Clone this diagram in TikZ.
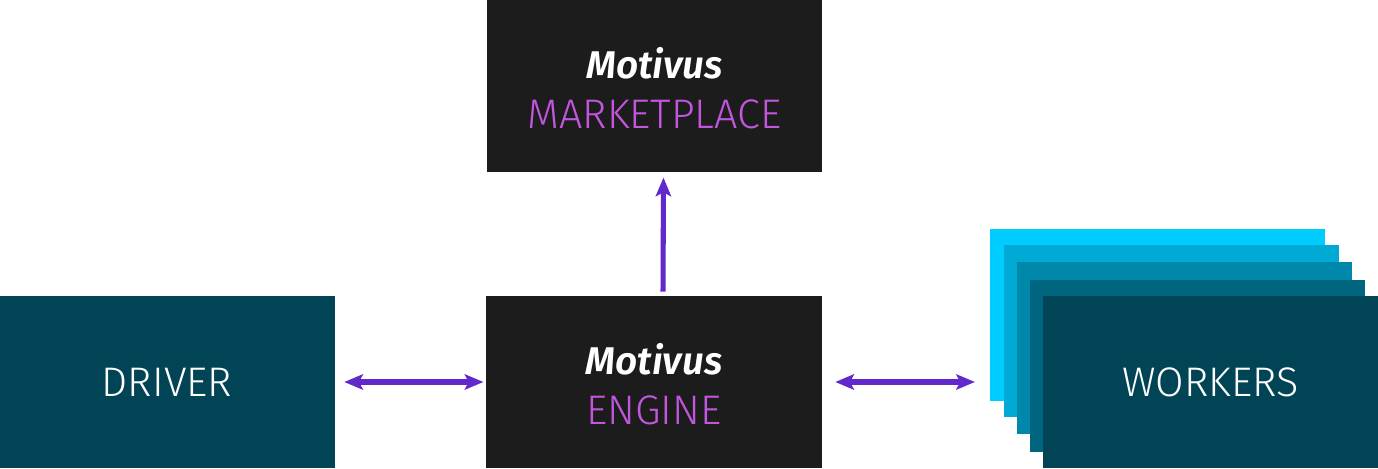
\documentclass[tikz,border=0pt]{standalone}
\usepackage{fontspec}
\setmainfont{Fira Sans Light}[BoldItalicFont={Fira Sans SemiBold Italic}]
\usetikzlibrary{positioning, arrows.meta}
\definecolor{boxdark}{HTML}{1C1C1C}
\definecolor{motpurple}{HTML}{C257DE}
\definecolor{linkpurple}{HTML}{6128CC}
\definecolor{teal1}{HTML}{00CCFF}
\definecolor{teal2}{HTML}{00AAD4}
\definecolor{teal3}{HTML}{0088AA}
\definecolor{teal4}{HTML}{006680}
\definecolor{teal5}{HTML}{004455}
\tikzset{
	x=0.75pt, y=0.75pt, % one unit is one pixel of the sketch
	block/.style={minimum width=251.5pt, minimum height=129pt, inner sep=0pt, text=white, font=\fontsize{31}{37.5}\selectfont, align=center}, % every box
	core/.style={block, fill=boxdark}, % the black Motivus boxes
	label/.style={align=center, text=white, font=\fontsize{31}{37.5}\selectfont}, % text on the black boxes
	tip/.style={Stealth[length=14pt,width=11.5pt,inset=3pt]}, % arrow head
	link/.style={{Stealth[length=14pt,width=11.5pt,inset=3pt]}-{Stealth[length=14pt,width=11.5pt,inset=3pt]}, line width=3.8pt, draw=linkpurple}, % two way links
}
\newcommand{\motivus}[1]{{\fontsize{29}{37.5}\selectfont\textbf{\textit{Motivus}}}\\{\color{motpurple}#1}}

\begin{document}
\begin{tikzpicture}
			\useasboundingbox (0,0) rectangle (1378,468);
			\node[core] (engine) at (654,86) {};
			\node[core] (market) at (654.5,382) {};
			\node[label] (enginetext) at ([yshift=-2pt]engine.center) {\motivus{ENGINE}};
			\node[label] (markettext) at ([yshift=-2pt]market.center) {\motivus{MARKETPLACE}};
			\node[block, fill=teal5] (driver) at (167,86) {DRIVER};

			% stack of workers, back to front
			\node[block, fill=teal1] (wk1) at (1157.5,153) {};
			\node[block, fill=teal2] (wk2) at (1171.5,137) {};
			\node[block, fill=teal3] (wk3) at (1184.5,120) {};
			\node[block, fill=teal4] (wk4) at (1197.5,102) {};
			\node[block, fill=teal5] (workers) at (1210.5,86) {WORKERS};

			\draw[link, shorten <=7pt, shorten >=2pt] (driver) -- (engine);
			\draw[link, shorten <=10pt, shorten >=11pt] (engine) -- (engine -| wk1.west);
			\draw[link, -{Stealth[length=14pt,width=11.5pt,inset=3pt]}, shorten <=3pt, shorten >=4pt] ([xshift=6.75pt]engine.north) -- ([xshift=6.75pt]market.south);
		\end{tikzpicture}
\end{document}
